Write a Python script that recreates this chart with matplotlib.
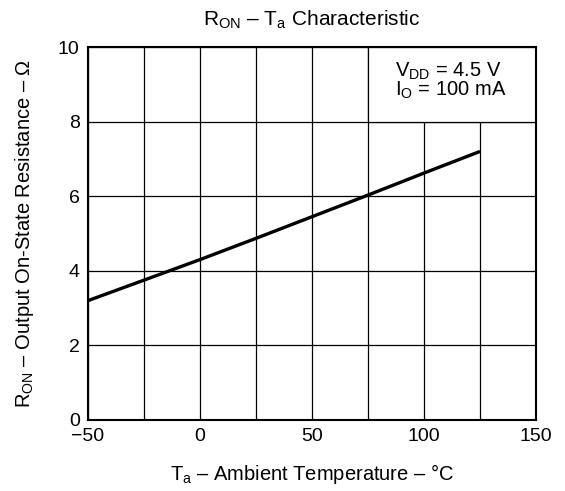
import numpy as np
import matplotlib.pyplot as plt
from matplotlib.patches import Rectangle

plt.rcParams['font.family'] = ['Liberation Sans', 'DejaVu Sans']
plt.rcParams['mathtext.fontset'] = 'custom'
plt.rcParams['mathtext.rm'] = 'Liberation Sans'
plt.rcParams['mathtext.it'] = 'Liberation Sans'

# R_ON vs ambient temperature
temp_c = [-50, -25, 0, 25, 50, 75, 100, 125]
r_on = [3.2, 3.75, 4.3, 4.87, 5.45, 6.03, 6.62, 7.2]

x_ticks = [-50, 0, 50, 100, 150]
y_ticks = [0, 2, 4, 6, 8, 10]

fig = plt.figure(figsize=(5.65, 4.91), dpi=100)
ax = fig.add_axes([88 / 565, 71 / 491, 448 / 565, 373 / 491])

ax.plot(temp_c, r_on, color='black', lw=2.4, zorder=3, solid_capstyle='butt')

ax.set_xlim(-50, 150)
ax.set_ylim(0, 10)
ax.set_xticks(x_ticks)
ax.set_xticks(np.arange(-50, 151, 25), minor=True)
ax.set_yticks(y_ticks)
ax.grid(True, which='both', color='black', lw=0.9)
ax.set_axisbelow(True)
ax.tick_params(which='both', length=0, labelsize=14)
ax.tick_params(axis='x', pad=6)
ax.tick_params(axis='y', pad=6)
for sp in ax.spines.values():
    sp.set_linewidth(1.5)

# blank area behind the test conditions
ax.add_patch(Rectangle((75, 8), 75, 2, facecolor='white', edgecolor='black',
                       lw=0.9, zorder=1.5))
ax.text(87, 9.64, '$\\mathregular{V_{DD}}$ = 4.5 V\n$\\mathregular{I_{O}}$ = 100 mA',
        fontsize=14.5, va='top', ha='left', linespacing=0.9, zorder=4)

ax.set_title('$\\mathregular{R_{ON}}$ – $\\mathregular{T_{a}}$ Characteristic',
             fontsize=15, pad=15)
ax.set_xlabel('$\\mathregular{T_{a}}$ – Ambient Temperature – °C', fontsize=14.5, labelpad=12)
ax.set_ylabel('$\\mathregular{R_{ON}}$ – Output On-State Resistance – Ω', fontsize=14.5, labelpad=16)

fig.savefig('out.png', dpi=100)
